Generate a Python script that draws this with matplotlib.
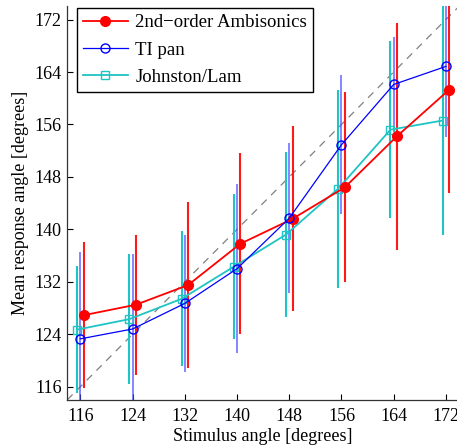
import numpy as np
import matplotlib
matplotlib.use("Agg")
import matplotlib.pyplot as plt

# stimulus angles (degrees)
stimulus = np.array([116, 124, 132, 140, 148, 156, 164, 172])

# mean response angle and error bar half-length for each panning method
ambi_mean = [126.9, 128.5, 131.5, 137.8, 141.6, 146.4, 154.2, 161.3]
ambi_err = [11.1, 10.7, 12.6, 13.8, 14.1, 14.5, 17.3, 15.7]

tipan_mean = [123.3, 124.8, 128.7, 134.0, 141.7, 152.9, 162.1, 164.85]
tipan_err = [13.2, 11.4, 10.4, 12.9, 11.4, 10.6, 7.3, 10.75]

jl_mean = [124.7, 126.3, 129.4, 134.3, 139.2, 146.2, 155.2, 156.6]
jl_err = [9.7, 9.9, 10.3, 11.1, 12.6, 15.1, 13.5, 17.45]

labels = ["2nd\u2212order Ambisonics", "TI pan", "Johnston/Lam"]
ticks = [116, 124, 132, 140, 148, 156, 164, 172]

plt.rcParams["font.family"] = ["Liberation Serif", "DejaVu Serif"]

fig = plt.figure(figsize=(4.57, 4.48), dpi=100)
ax = fig.add_axes([0.1473, 0.1076, 0.857, 0.878])

# diagonal (response == stimulus)
ax.plot([114, 174], [114, 174], color="#808080", linestyle=(0, (6, 5)), linewidth=0.9, zorder=1)

cyan = "#1fc4c4"

# error bars first, each series shifted a little sideways
ax.errorbar(stimulus - 0.5, jl_mean, yerr=jl_err, fmt="none", ecolor=cyan, elinewidth=1.5, zorder=2)
ax.errorbar(stimulus, tipan_mean, yerr=tipan_err, fmt="none", ecolor="#4a4aff", elinewidth=1.1, alpha=0.85, zorder=2)
ax.errorbar(stimulus + 0.5, ambi_mean, yerr=ambi_err, fmt="none", ecolor="#ff1a1a", elinewidth=1.5, zorder=2)

# mean lines with markers
l1, = ax.plot(stimulus + 0.5, ambi_mean, color="red", linewidth=1.3, marker="o",
              markersize=7, markerfacecolor="red", markeredgecolor="red", zorder=4)
l2, = ax.plot(stimulus, tipan_mean, color="blue", linewidth=0.9, marker="o",
              markersize=6.5, markerfacecolor="none", markeredgecolor="blue", zorder=4)
l3, = ax.plot(stimulus - 0.5, jl_mean, color=cyan, linewidth=1.3, marker="s",
              markersize=6, markerfacecolor="none", markeredgecolor=cyan, zorder=3)

ax.set_xlim(114, 174)
ax.set_ylim(114, 174)
ax.set_xticks(ticks)
ax.set_yticks(ticks)
ax.tick_params(direction="in", length=4, width=0.8, labelsize=13, pad=4)
ax.tick_params(axis="x", pad=6)

for side in ["top", "right"]:
    ax.spines[side].set_visible(False)
for side in ["left", "bottom"]:
    ax.spines[side].set_linewidth(0.9)
    ax.spines[side].set_color("#333333")

ax.set_xlabel("Stimulus angle [degrees]", fontsize=13, labelpad=2)
ax.set_ylabel("Mean response angle [degrees]", fontsize=13, labelpad=4)

leg = ax.legend([l1, l2, l3], labels, loc="upper left", fontsize=13.5,
                bbox_to_anchor=(0.02, 1.0), fancybox=False, framealpha=1,
                edgecolor="black", handlelength=2.4, borderpad=0.3,
                labelspacing=0.55, handletextpad=0.4, borderaxespad=0.1)
leg.get_frame().set_linewidth(1.0)

fig.savefig("out.png", dpi=100)
